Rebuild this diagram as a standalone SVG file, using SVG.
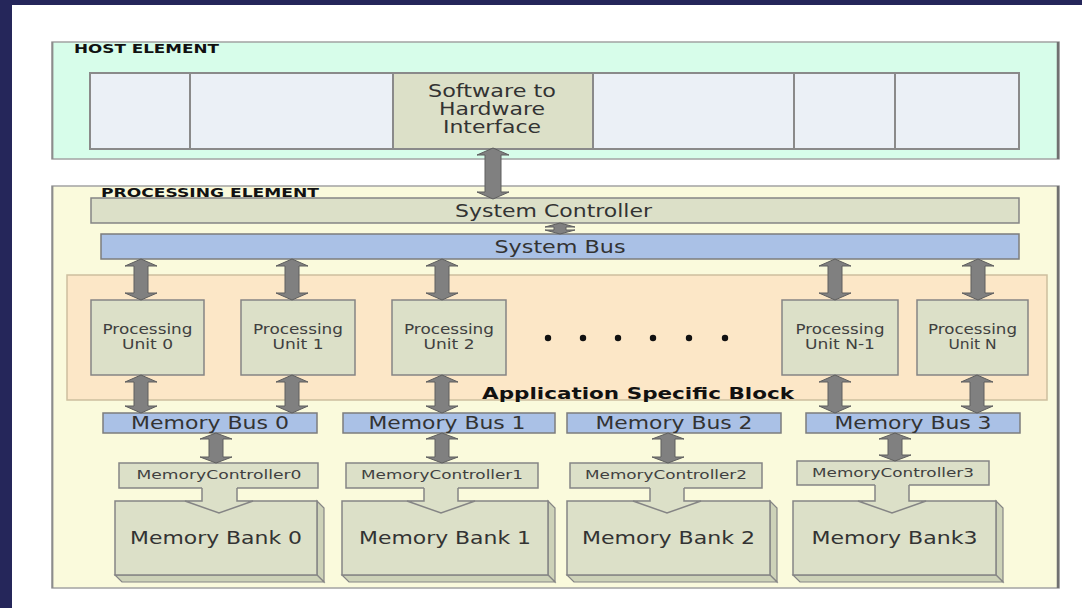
<svg xmlns="http://www.w3.org/2000/svg" width="1082" height="608" viewBox="0 0 1082 608">
  <defs>
    <style>
      .frame { fill: #25265a; }
      .host { fill: #d7fdea; stroke: #a3a3a3; stroke-width: 1.5; }
      .pe { fill: #fafadc; stroke: #a3a3a3; stroke-width: 1.5; }
      .edge { stroke: #707070; stroke-width: 2.5; fill: none; }
      .cell { fill: #ebf0f6; stroke: #8a8a8a; stroke-width: 2; }
      .olive { fill: #dce0c8; stroke: #858585; stroke-width: 1.5; }
      .side { fill: #cdd2b8; stroke: #858585; stroke-width: 1.2; }
      .bus { fill: #aac1e6; stroke: #7c7c7c; stroke-width: 1.5; }
      .asb { fill: #fce7c7; stroke: #cdbf9e; stroke-width: 1.5; }
      .arrow { fill: #808080; stroke: #5e5e5e; stroke-width: 1; }
      .notch { fill: #dce0c8; stroke: none; }
      .notch-line { fill: none; stroke: #858585; stroke-width: 1.5; }
      .dot { fill: #111; }
      text { font-family: "DejaVu Sans", Verdana, sans-serif; fill: #333; }
      .hdr { font-weight: bold; fill: #111; }
      .big { font-size: 17.5px; }
      .busl { font-size: 17px; }
      .mid { font-size: 13.5px; fill: #404040; }
      .small { font-size: 12.5px; fill: #404040; }
      .c { text-anchor: middle; }
    </style>
  </defs>

  <!-- page background and dark frame -->
  <rect x="0" y="0" width="1082" height="608" fill="#ffffff"/>
  <rect class="frame" x="0" y="0" width="1082" height="5"/>
  <rect class="frame" x="0" y="0" width="12" height="608"/>

  <!-- host element -->
  <g id="host-element">
    <rect class="host" x="52" y="42" width="1007" height="117"/>
    <line class="edge" x1="1058" y1="42" x2="1058" y2="159"/>
    <line class="edge" x1="52.5" y1="42" x2="52.5" y2="159" style="stroke:#8c8c8c;stroke-width:1.8"/>
    <text class="hdr" x="74" y="53" font-size="12" textLength="145" lengthAdjust="spacingAndGlyphs">HOST ELEMENT</text>
    <rect class="cell" x="90" y="73" width="929" height="76"/>
    <line class="cell" x1="190" y1="73" x2="190" y2="149"/>
    <line class="cell" x1="794" y1="73" x2="794" y2="149"/>
    <line class="cell" x1="895" y1="73" x2="895" y2="149"/>
  </g>

  <g id="sw-hw-interface">
    <rect class="olive" x="393" y="73" width="200" height="76" style="stroke:#8a8a8a;stroke-width:2"/>
    <text class="big c" x="492" y="97" textLength="128" lengthAdjust="spacingAndGlyphs">Software to</text>
    <text class="big c" x="492" y="115" textLength="106" lengthAdjust="spacingAndGlyphs">Hardware</text>
    <text class="big c" x="492" y="133" textLength="98" lengthAdjust="spacingAndGlyphs">Interface</text>
  </g>

  <!-- processing element -->
  <g id="processing-element">
    <rect class="pe" x="52" y="186" width="1007" height="402"/>
    <line class="edge" x1="1058" y1="186" x2="1058" y2="588"/>
    <line class="edge" x1="52.5" y1="186" x2="52.5" y2="588" style="stroke:#8c8c8c;stroke-width:1.8"/>
    <text class="hdr" x="101" y="197" font-size="13" textLength="218" lengthAdjust="spacingAndGlyphs">PROCESSING ELEMENT</text>
  </g>

  <g id="system-controller">
    <rect class="olive" x="91" y="198" width="928" height="25"/>
    <text class="big c" x="553.5" y="216.5" textLength="197" lengthAdjust="spacingAndGlyphs">System Controller</text>
  </g>

  <g id="system-bus">
    <rect class="bus" x="101" y="234" width="918" height="25"/>
    <text class="big c" x="560" y="252.5" textLength="131" lengthAdjust="spacingAndGlyphs">System Bus</text>
  </g>

  <g id="application-specific-block">
    <rect class="asb" x="67" y="275" width="980" height="125"/>
  </g>

  <g id="pu-0">
    <rect class="olive" x="91" y="300" width="113" height="75"/>
    <text class="mid c" x="147.5" y="334" textLength="90" lengthAdjust="spacingAndGlyphs">Processing</text>
    <text class="mid c" x="147.5" y="349" textLength="51" lengthAdjust="spacingAndGlyphs">Unit 0</text>
  </g>
  <g id="pu-1">
    <rect class="olive" x="241" y="300" width="114" height="75"/>
    <text class="mid c" x="298" y="334" textLength="90" lengthAdjust="spacingAndGlyphs">Processing</text>
    <text class="mid c" x="298" y="349" textLength="51" lengthAdjust="spacingAndGlyphs">Unit 1</text>
  </g>
  <g id="pu-2">
    <rect class="olive" x="392" y="300" width="114" height="75"/>
    <text class="mid c" x="449" y="334" textLength="90" lengthAdjust="spacingAndGlyphs">Processing</text>
    <text class="mid c" x="449" y="349" textLength="51" lengthAdjust="spacingAndGlyphs">Unit 2</text>
  </g>
  <g id="pu-ellipsis">
    <circle class="dot" cx="548" cy="338" r="3.2"/>
    <circle class="dot" cx="583" cy="338" r="3.2"/>
    <circle class="dot" cx="618" cy="338" r="3.2"/>
    <circle class="dot" cx="653" cy="338" r="3.2"/>
    <circle class="dot" cx="689" cy="338" r="3.2"/>
    <circle class="dot" cx="725" cy="338" r="3.2"/>
  </g>
  <g id="pu-n-1">
    <rect class="olive" x="782" y="300" width="116" height="75"/>
    <text class="mid c" x="840" y="334" textLength="89" lengthAdjust="spacingAndGlyphs">Processing</text>
    <text class="mid c" x="840" y="349" textLength="70" lengthAdjust="spacingAndGlyphs">Unit N-1</text>
  </g>
  <g id="pu-n">
    <rect class="olive" x="917" y="300" width="111" height="75"/>
    <text class="mid c" x="972.5" y="334" textLength="89" lengthAdjust="spacingAndGlyphs">Processing</text>
    <text class="mid c" x="972.5" y="349" textLength="48" lengthAdjust="spacingAndGlyphs">Unit N</text>
  </g>

  <g id="asb-label">
    <text class="hdr" x="482" y="399" font-size="16.5" textLength="312" lengthAdjust="spacingAndGlyphs">Application Specific Block</text>
  </g>

  <!-- memory buses -->
  <g id="memory-bus-0">
    <rect class="bus" x="103" y="413" width="214" height="20"/>
    <text class="busl c" x="210" y="428.5" textLength="158" lengthAdjust="spacingAndGlyphs">Memory Bus 0</text>
  </g>
  <g id="memory-bus-1">
    <rect class="bus" x="343" y="413" width="212" height="20"/>
    <text class="busl c" x="447" y="428.5" textLength="157" lengthAdjust="spacingAndGlyphs">Memory Bus 1</text>
  </g>
  <g id="memory-bus-2">
    <rect class="bus" x="567" y="413" width="214" height="20"/>
    <text class="busl c" x="674" y="428.5" textLength="157" lengthAdjust="spacingAndGlyphs">Memory Bus 2</text>
  </g>
  <g id="memory-bus-3">
    <rect class="bus" x="806" y="413" width="214" height="20"/>
    <text class="busl c" x="913" y="428.5" textLength="157" lengthAdjust="spacingAndGlyphs">Memory Bus 3</text>
  </g>

  <!-- memory banks (extruded boxes) -->
  <g id="memory-bank-0">
    <polygon class="side" points="317,501 324,508 324,582 317,575"/>
    <polygon class="side" points="115,575 317,575 324,582 122,582"/>
    <rect class="olive" x="115" y="501" width="202" height="74"/>
    <text class="big c" x="216" y="543.5" textLength="172" lengthAdjust="spacingAndGlyphs">Memory Bank 0</text>
  </g>
  <g id="memory-bank-1">
    <polygon class="side" points="548,501 555,508 555,582 548,575"/>
    <polygon class="side" points="342,575 548,575 555,582 349,582"/>
    <rect class="olive" x="342" y="501" width="206" height="74"/>
    <text class="big c" x="445" y="543.5" textLength="172" lengthAdjust="spacingAndGlyphs">Memory Bank 1</text>
  </g>
  <g id="memory-bank-2">
    <polygon class="side" points="770,501 777,508 777,582 770,575"/>
    <polygon class="side" points="567,575 770,575 777,582 574,582"/>
    <rect class="olive" x="567" y="501" width="203" height="74"/>
    <text class="big c" x="668.5" y="543.5" textLength="173" lengthAdjust="spacingAndGlyphs">Memory Bank 2</text>
  </g>
  <g id="memory-bank-3">
    <polygon class="side" points="996,501 1003,508 1003,582 996,575"/>
    <polygon class="side" points="793,575 996,575 1003,582 800,582"/>
    <rect class="olive" x="793" y="501" width="203" height="74"/>
    <text class="big c" x="894.5" y="543.5" textLength="166" lengthAdjust="spacingAndGlyphs">Memory Bank3</text>
  </g>

  <!-- memory controllers -->
  <g id="memory-controller-0">
    <rect class="olive" x="119" y="463" width="199" height="25"/>
    <text class="small c" x="219" y="478.5" textLength="165" lengthAdjust="spacingAndGlyphs">MemoryController0</text>
  </g>
  <g id="memory-controller-1">
    <rect class="olive" x="346" y="463" width="192" height="25"/>
    <text class="small c" x="442" y="478.5" textLength="162" lengthAdjust="spacingAndGlyphs">MemoryController1</text>
  </g>
  <g id="memory-controller-2">
    <rect class="olive" x="570" y="463" width="192" height="25"/>
    <text class="small c" x="666" y="478.5" textLength="162" lengthAdjust="spacingAndGlyphs">MemoryController2</text>
  </g>
  <g id="memory-controller-3">
    <rect class="olive" x="797" y="461" width="192" height="24"/>
    <text class="small c" x="893" y="476.5" textLength="162" lengthAdjust="spacingAndGlyphs">MemoryController3</text>
  </g>

  <!-- connectors -->
  <g id="connectors">
    <!-- host interface to system controller -->
    <polygon class="arrow" points="493,148 509,155 501,155 501,192 509,192 493,199 477,192 485,192 485,155 477,155"/>
    <!-- system controller to system bus -->
    <polygon class="arrow" points="560,223 575,227 566,227 566,230 575,230 560,234 545,230 554,230 554,227 545,227"/>

    <!-- system bus to processing units -->
    <polygon class="arrow" points="141,259 157,266 148,266 148,293 157,293 141,300 125,293 134,293 134,266 125,266"/>
    <polygon class="arrow" points="292,259 308,266 299,266 299,293 308,293 292,300 276,293 285,293 285,266 276,266"/>
    <polygon class="arrow" points="442,259 458,266 449,266 449,293 458,293 442,300 426,293 435,293 435,266 426,266"/>
    <polygon class="arrow" points="835,259 851,266 842,266 842,293 851,293 835,300 819,293 828,293 828,266 819,266"/>
    <polygon class="arrow" points="978,259 994,266 985,266 985,293 994,293 978,300 962,293 971,293 971,266 962,266"/>

    <!-- processing units to memory buses -->
    <polygon class="arrow" points="141,375 157,382 148,382 148,406 157,406 141,413 125,406 134,406 134,382 125,382"/>
    <polygon class="arrow" points="292,375 308,382 299,382 299,406 308,406 292,413 276,406 285,406 285,382 276,382"/>
    <polygon class="arrow" points="442,375 458,382 449,382 449,406 458,406 442,413 426,406 435,406 435,382 426,382"/>
    <polygon class="arrow" points="835,375 851,382 842,382 842,406 851,406 835,413 819,406 828,406 828,382 819,382"/>
    <polygon class="arrow" points="977,375 993,382 984,382 984,406 993,406 977,413 961,406 970,406 970,382 961,382"/>

    <!-- memory buses to memory controllers -->
    <polygon class="arrow" points="216,433 232,439 223,439 223,457 232,457 216,463 200,457 209,457 209,439 200,439"/>
    <polygon class="arrow" points="442,433 458,439 449,439 449,457 458,457 442,463 426,457 435,457 435,439 426,439"/>
    <polygon class="arrow" points="668,433 684,439 675,439 675,457 684,457 668,463 652,457 661,457 661,439 652,439"/>
    <polygon class="arrow" points="895,433 911,439 902,439 902,455 911,455 895,461 879,455 888,455 888,439 879,439"/>

    <!-- memory controllers into memory banks -->
    <polygon class="notch" points="202,487 237,487 237,500 253,500 219,513 185,500 202,500"/>
    <path class="notch-line" d="M202,488 V501 H185 L219,513 L253,501 H237 V488"/>
    <polygon class="notch" points="424,487 458,487 458,500 475,500 441,513 407,500 424,500"/>
    <path class="notch-line" d="M424,488 V501 H407 L441,513 L475,501 H458 V488"/>
    <polygon class="notch" points="650,487 684,487 684,500 701,500 667,513 633,500 650,500"/>
    <path class="notch-line" d="M650,488 V501 H633 L667,513 L701,501 H684 V488"/>
    <polygon class="notch" points="875,484 909,484 909,500 926,500 892,513 858,500 875,500"/>
    <path class="notch-line" d="M875,485 V501 H858 L892,513 L926,501 H909 V485"/>
  </g>
</svg>
